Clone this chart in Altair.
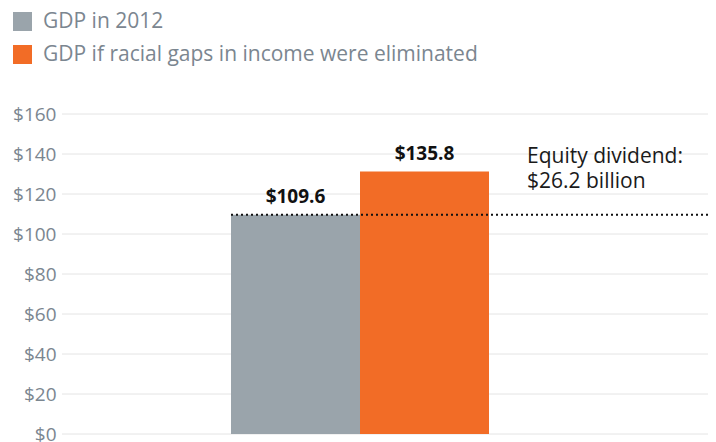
import altair as alt
import pandas as pd

categories = ["GDP in 2012", "GDP if racial gaps in income were eliminated"]
bar_heights = [109.6, 131.2]
bar_labels = ["$109.6", "$135.8"]
colors = ["#9aa4ab", "#f26c26"]
baseline_value = 109.6
annotation_lines = ["Equity dividend:", "$26.2 billion"]
annotation_y = 135.6
y_ticks = [0, 20, 40, 60, 80, 100, 120, 140, 160]

W, H = 646, 320

df = pd.DataFrame({"cat": categories, "value": bar_heights, "label": bar_labels})
grid_df = pd.DataFrame({"value": y_ticks})

FONT = "Open Sans"
GREY_TXT = "#7b8690"

x_scale = alt.Scale(domain=categories, paddingInner=0, paddingOuter=0, range=[169, 427])
x_enc = alt.X("cat:N", scale=x_scale, axis=None, sort=categories)
y_scale = alt.Scale(domain=[0, 160], nice=False)
y_axis = alt.Axis(
    values=y_ticks,
    labelExpr="'$' + datum.value",
    title=None,
    grid=False,
    domain=False,
    ticks=False,
    labelOverlap=False,
    labelPadding=6,
    labelFont=FONT,
    labelFontSize=19,
    labelColor=GREY_TXT,
)
y_enc = alt.Y("value:Q", scale=y_scale, axis=y_axis)

grid = alt.Chart(grid_df).mark_rule(color="#e4e4e4", strokeWidth=1).encode(
    y=y_enc,
    x=alt.value(0),
    x2=alt.value({"expr": "width"}),
)

bars = alt.Chart(df).mark_bar(opacity=1).encode(
    x=x_enc,
    y=y_enc,
    color=alt.Color(
        "cat:N",
        scale=alt.Scale(domain=categories, range=colors),
        sort=categories,
        legend=alt.Legend(
            title=None,
            orient="none",
            legendX=-50,
            legendY=-103,
            symbolType="square",
            symbolSize=361,
            symbolStrokeWidth=0,
            symbolOpacity=1,
            labelFont=FONT,
            labelFontSize=21,
            labelColor=GREY_TXT,
            labelOffset=10,
            rowPadding=11,
            labelLimit=600,
        ),
    ),
)

labels = alt.Chart(df).mark_text(
    font=FONT, fontSize=19, fontWeight="bold", color="#111111", baseline="alphabetic", dy=-12
).encode(x=x_enc, y=y_enc, text="label:N")

rule_df = pd.DataFrame({"cat": [categories[0]], "value": [baseline_value]})
rule = alt.Chart(rule_df).mark_rule(
    color="#111111", strokeWidth=2, strokeDash=[2, 3]
).encode(
    x=alt.X("cat:N", scale=x_scale, axis=None, sort=categories, bandPosition=0),
    x2=alt.value({"expr": "width"}),
    y=y_enc,
)

ann_df = pd.DataFrame({"cat": [categories[1]], "value": [annotation_y], "t": [annotation_lines]})
annotation = alt.Chart(ann_df).mark_text(
    font=FONT, fontSize=21, color="#1a1a1a", align="left", baseline="alphabetic",
    dx=38, lineHeight=25,
).encode(
    x=alt.X("cat:N", scale=x_scale, axis=None, sort=categories, bandPosition=1),
    y=y_enc,
    text="t",
)

chart = alt.layer(grid, bars, rule, labels, annotation).properties(
    width=W,
    height=H,
    background="white",
    autosize=alt.AutoSizeParams(type="none"),
    padding={"left": 54, "top": 106, "right": 0, "bottom": 8},
).configure_view(stroke=None)

chart.save("out.html", embed_options={"renderer": "svg", "actions": False})
